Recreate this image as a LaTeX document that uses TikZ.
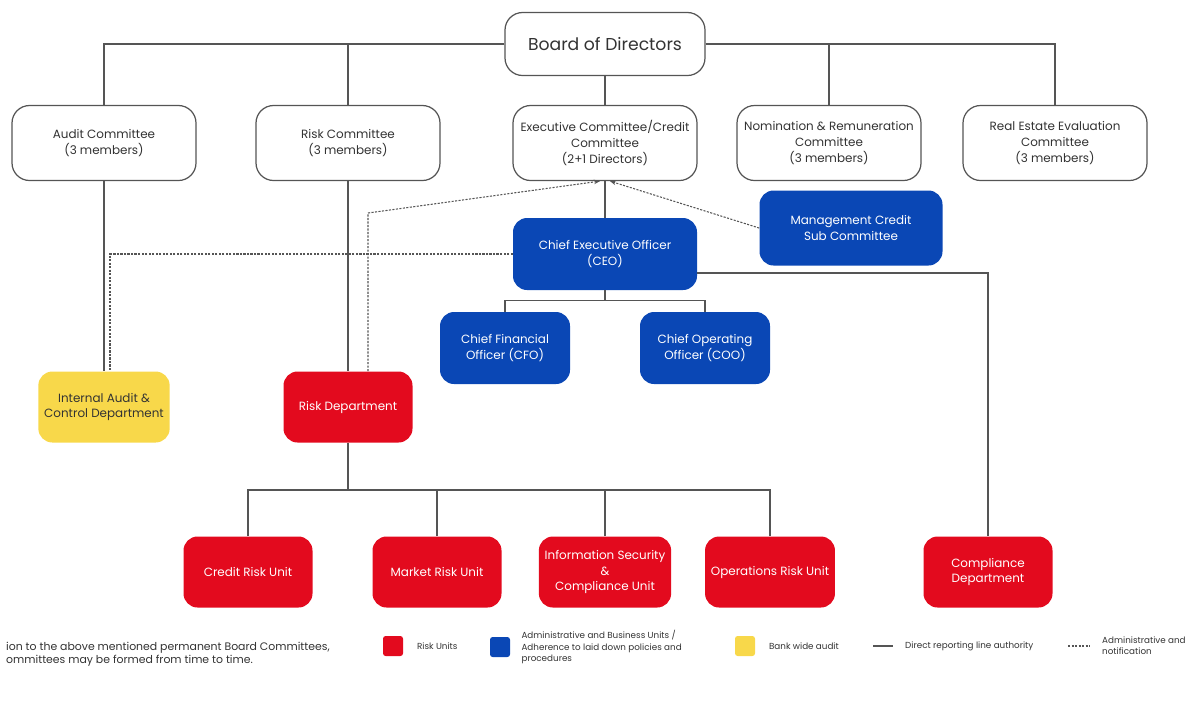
\documentclass[tikz,border=0pt]{standalone}
\usepackage{fontspec}
\setmainfont{Poppins}
\usetikzlibrary{arrows.meta, positioning, calc}
\definecolor{bancoBlue}{HTML}{0A47B5}
\definecolor{bancoRed}{HTML}{E30A1E}
\definecolor{bancoYellow}{HTML}{F8D84A}
\definecolor{lineGray}{HTML}{555555}
\definecolor{textDark}{HTML}{333333}

\begin{document}
\begin{tikzpicture}[
    comite/.style={draw=lineGray, rounded corners=10pt, line width=0.7pt, fill=white,
                   align=center, minimum width=3.68cm, minimum height=1.5cm,
                   text=textDark, font=\fontsize{6.8}{9}\selectfont},
    caja/.style={rounded corners=8pt, align=center, minimum width=2.58cm,
                 minimum height=1.42cm, text=white, font=\fontsize{6.8}{9}\selectfont},
    fl/.style={line width=0.6pt, color=lineGray},
    fld/.style={fl, dash pattern=on 1.2pt off 0.8pt},
    punta/.style={-{Stealth[length=1.2mm]}},
    cuadro/.style={minimum size=0.4cm, inner sep=0pt, rounded corners=1.5pt},
    ley/.style={font=\fontsize{5}{6.4}\selectfont, text=textDark, align=left, anchor=west}]
    \useasboundingbox (0,0) rectangle (24.08,-14.16);
    % board and committees
    \node[comite, minimum width=4cm, minimum height=1.26cm,
          font=\fontsize{9.8}{11}\selectfont] (bod) at (12.10,-0.88) {Board of Directors};
    \node[comite] (aud) at (2.08,-2.86)  {Audit Committee\\(3 members)};
    \node[comite] (rsk) at (6.96,-2.86)  {Risk Committee\\(3 members)};
    \node[comite] (exe) at (12.10,-2.86) {Executive Committee/Credit\\Committee\\(2+1 Directors)};
    \node[comite] (nom) at (16.58,-2.86) {Nomination \& Remuneration\\Committee\\(3 members)};
    \node[comite] (rea) at (21.10,-2.86) {Real Estate Evaluation\\Committee\\(3 members)};
    % management
    \node[caja, fill=bancoBlue, minimum width=3.66cm, minimum height=1.5cm] (mcc) at (17.02,-4.56) {Management Credit\\Sub Committee};
    \node[caja, fill=bancoBlue, minimum width=3.68cm, minimum height=1.44cm] (ceo) at (12.10,-5.08) {Chief Executive Officer\\(CEO)};
    \node[caja, fill=bancoBlue, minimum width=2.6cm, minimum height=1.44cm] (cfo) at (10.10,-6.96) {Chief Financial\\Officer (CFO)};
    \node[caja, fill=bancoBlue, minimum width=2.6cm, minimum height=1.44cm] (coo) at (14.10,-6.96) {Chief Operating\\Officer (COO)};
    \node[caja, fill=bancoYellow, text=textDark] (ia) at (2.08,-8.14) {Internal Audit \&\\Control Department};
    \node[caja, fill=bancoRed] (rd) at (6.96,-8.14) {Risk Department};
    % units
    \node[caja, fill=bancoRed] (cru) at (4.96,-11.44)  {Credit Risk Unit};
    \node[caja, fill=bancoRed] (mru) at (8.74,-11.44)  {Market Risk Unit};
    \node[caja, fill=bancoRed] (isu) at (12.10,-11.44) {Information Security\\\&\\Compliance Unit};
    \node[caja, fill=bancoRed] (oru) at (15.40,-11.44) {Operations Risk Unit};
    \node[caja, fill=bancoRed] (cmp) at (19.76,-11.44) {Compliance\\Department};
    % reporting lines
    \draw[fl] (bod.west) -| (aud.north);
    \draw[fl] (bod.west) -| (rsk.north);
    \draw[fl] (bod) -- (exe);
    \draw[fl] (bod.east) -| (nom.north);
    \draw[fl] (bod.east) -| (rea.north);
    \draw[fl] (exe) -- (ceo);
    \draw[fl] (ceo.south) -- ++(0,-0.2) -| (cfo.north);
    \draw[fl] (ceo.south) -- ++(0,-0.2) -| (coo.north);
    \draw[fl] (aud) -- (ia);
    \draw[fl] (rsk) -- (rd);
    \draw[fl] ([yshift=-3.8mm]ceo.east) -| (cmp.north);
    \coordinate (bus) at (6.96,-9.8);
    \draw[fl] (rd) -- (bus);
    \draw[fl] (cru.north) |- (bus) -| (oru.north);
    \draw[fl] (mru.north) -- (mru.north |- bus);
    \draw[fl] (isu.north) -- (isu.north |- bus);
    % dotted lines
    \draw[fld] (ceo.west) -| ([xshift=1.2mm]ia.north);
    \coordinate (rdk) at (7.36,-4.26);
    \draw[fld, punta] ([xshift=4mm]rd.north) -- (rdk) -- ([xshift=-1mm]exe.south);
    \draw[fld, punta] (mcc.west) -- ([xshift=1mm]exe.south);
    % legend
    \node[ley, font=\fontsize{6.2}{7.6}\selectfont] (nota) at (0,-13.08) {ion to the above mentioned permanent Board Committees,\\ommittees may be formed from time to time.};
    \node[cuadro, fill=bancoRed] (lr) at (7.86,-12.92) {};
    \node[ley, right=0.15cm of lr] (lrt) {Risk Units};
    \node[cuadro, fill=bancoBlue] (lb) at (10.00,-12.94) {};
    \node[ley, right=0.1cm of lb] (lbt) {Administrative and Business Units /\\Adherence to laid down policies and\\procedures};
    \node[cuadro, fill=bancoYellow] (ly) at (14.90,-12.92) {};
    \node[ley, right=0.15cm of ly] (lyt) {Bank wide audit};
    \coordinate (ls1) at (17.46,-12.92);
    \coordinate (ls2) at (17.86,-12.92);
    \draw[fl] (ls1) -- (ls2);
    \node[ley, right=0.12cm of ls2] (lst) {Direct reporting line authority};
    \coordinate (ld1) at (21.36,-12.92);
    \coordinate (ld2) at (21.80,-12.92);
    \draw[fld] (ld1) -- (ld2);
    \node[ley, right=0.12cm of ld2] (ldt) {Administrative and\\notification};
\end{tikzpicture}
\end{document}
